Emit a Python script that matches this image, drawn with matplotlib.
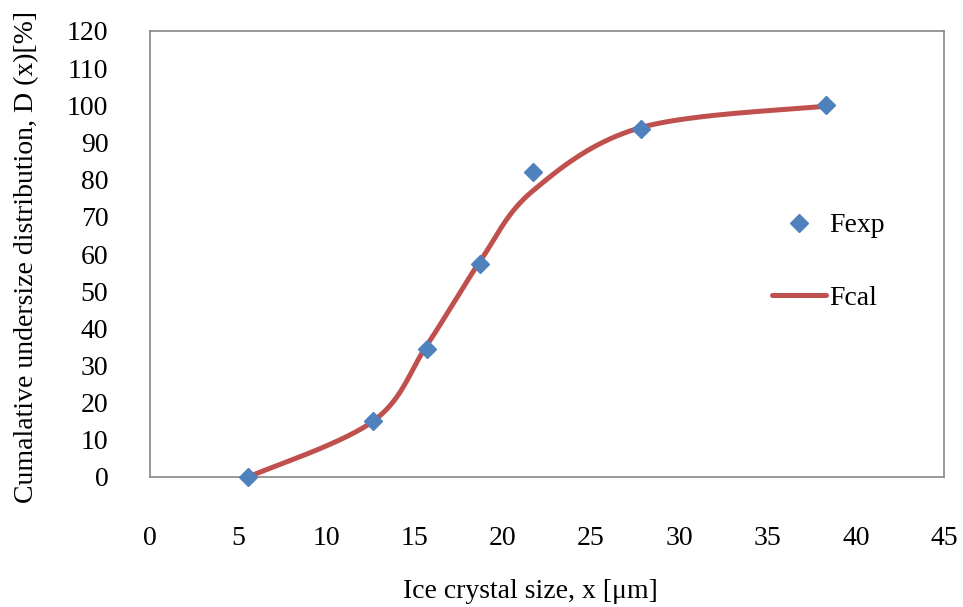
import numpy as np
import matplotlib
matplotlib.use("Agg")
import matplotlib.pyplot as plt
from matplotlib.lines import Line2D

plt.rcParams['font.family'] = ['Liberation Serif', 'DejaVu Serif']

# Measured and calculated cumulative undersize distribution
size_um = [5.56, 12.64, 15.7, 18.7, 21.7, 27.8, 38.3]
f_exp = [0.0, 15.1, 34.4, 57.3, 82.0, 93.6, 100.0]
f_cal = [0.0, 15.0, 35.5, 58.0, 77.0, 94.0, 99.8]

x_ticks = list(range(0, 50, 5))
y_ticks = list(range(0, 130, 10))


def smooth_curve(xs, ys, n=60):
    """Catmull-Rom style cubic Bezier smoothing through all points."""
    p = np.column_stack([xs, ys]).astype(float)
    pts = np.vstack([p[0], p, p[-1]])
    out = []
    t = np.linspace(0, 1, n)[:, None]
    for i in range(1, len(pts) - 2):
        p0, p1 = pts[i], pts[i + 1]
        c1 = p0 + (pts[i + 1] - pts[i - 1]) / 6.0
        c2 = p1 - (pts[i + 2] - pts[i]) / 6.0
        seg = ((1 - t) ** 3) * p0 + 3 * ((1 - t) ** 2) * t * c1 \
            + 3 * (1 - t) * t ** 2 * c2 + t ** 3 * p1
        out.append(seg if i == 1 else seg[1:])
    return np.vstack(out)


W, H = 963, 607
FS = 20
fig = plt.figure(figsize=(W / 100, H / 100), dpi=100)
ax = fig.add_axes([150 / W, 1 - 477 / H, (944 - 150) / W, (477 - 31) / H])

red = '#C0504D'
blue = '#4F81BD'

curve = smooth_curve(size_um, f_cal)
ax.plot(curve[:, 0], curve[:, 1], color=red, lw=3.6, solid_capstyle='round',
        zorder=2)
ax.plot(size_um, f_exp, linestyle='none', marker='D', ms=9, color=blue,
        zorder=3, clip_on=False)

ax.set_xlim(0, 45)
ax.set_ylim(0, 120)
ax.set_xticks(x_ticks)
ax.set_yticks(y_ticks)
ax.tick_params(axis='both', length=0, labelsize=FS, colors='black')
ax.tick_params(axis='x', pad=35)
ax.tick_params(axis='y', pad=30)
for s in ax.spines.values():
    s.set_color('#888888')
    s.set_linewidth(1.2)

fig.text(530 / W, 1 - 591 / H, 'Ice crystal size, x [\u03bcm]', fontsize=FS,
         ha='center', va='center')
fig.text(27 / W, 1 - 257 / H, 'Cumalative undersize distribution, D (x)[%]',
         fontsize=FS, rotation=90, ha='center', va='center')

handles = [
    Line2D([], [], linestyle='none', marker='D', ms=9, color=blue),
    Line2D([], [], color=red, lw=3.6, solid_capstyle='round'),
]
ax.legend(handles, ['Fexp', 'Fcal'], loc='upper left',
          bbox_to_anchor=(772 / W, 1 - 213 / H), bbox_transform=fig.transFigure,
          frameon=False, fontsize=FS, handlelength=1.95, handletextpad=0.1,
          labelspacing=1.7, borderpad=0, borderaxespad=0)

fig.savefig('out.png', dpi=100)
